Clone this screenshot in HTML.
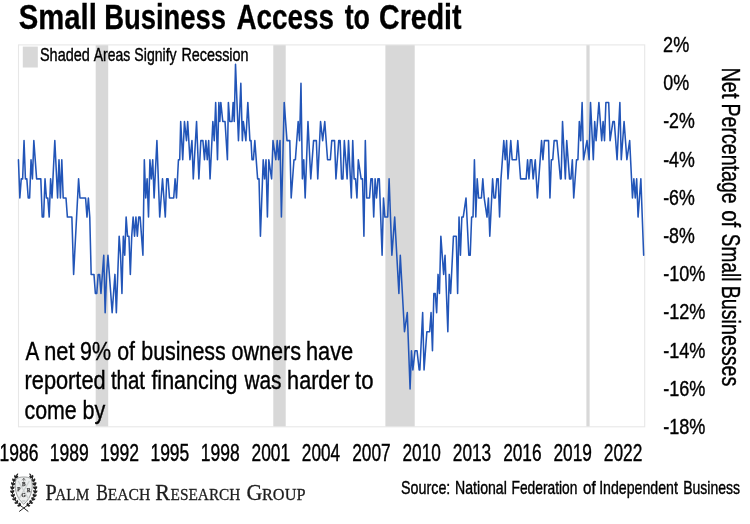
<!DOCTYPE html>
<html><head><meta charset="utf-8"><title>Small Business Access to Credit</title>
<style>
html,body{margin:0;padding:0;background:#fff;}
body{width:750px;height:524px;overflow:hidden;font-family:"Liberation Sans",sans-serif;}
svg{display:block;will-change:transform;}
svg text{font-family:"Liberation Sans",sans-serif;}
</style></head><body>
<svg width="750" height="524" viewBox="0 0 750 524">
<rect width="750" height="524" fill="#fff"/>
<rect x="95.7" y="44.9" width="12.50" height="381.90" fill="#d8d8d8"/>
<rect x="273.3" y="44.9" width="12.40" height="381.90" fill="#d8d8d8"/>
<rect x="385.4" y="44.9" width="29.30" height="381.90" fill="#d8d8d8"/>
<rect x="586.4" y="44.9" width="3.20" height="381.90" fill="#d8d8d8"/>
<rect x="18.5" y="44.9" width="626.20" height="381.90" fill="none" stroke="#e7e7e7" stroke-width="1.1"/>
<rect x="22.8" y="46.6" width="15.0" height="20.9" fill="#d8d8d8"/>
<text x="39.94" y="60.8" font-size="17.8" fill="#000" textLength="49.89" lengthAdjust="spacingAndGlyphs" stroke="#000" stroke-width="0.4">Shaded</text>
<text x="93.77" y="60.8" font-size="17.8" fill="#000" textLength="36.43" lengthAdjust="spacingAndGlyphs" stroke="#000" stroke-width="0.4">Areas</text>
<text x="134.36" y="60.8" font-size="17.8" fill="#000" textLength="42.27" lengthAdjust="spacingAndGlyphs" stroke="#000" stroke-width="0.4">Signify</text>
<text x="181.42" y="60.8" font-size="17.8" fill="#000" textLength="67.11" lengthAdjust="spacingAndGlyphs" stroke="#000" stroke-width="0.4">Recession</text>
<polyline points="18.44,159.74 19.84,197.96 21.24,178.85 22.64,178.85 24.03,140.63 25.43,178.85 26.83,178.85 28.23,197.96 29.63,197.96 31.03,159.74 32.43,178.85 33.83,140.63 36.62,178.85 40.82,178.85 42.22,217.07 43.62,217.07 45.02,178.85 46.41,197.96 47.81,197.96 49.21,217.07 50.61,178.85 52.01,197.96 54.81,140.63 57.60,197.96 59.00,159.74 60.40,197.96 61.80,159.74 63.20,197.96 66.00,197.96 67.39,217.07 71.87,217.07 73.62,274.40 78.58,178.85 79.98,197.96 85.58,197.96 86.98,217.07 88.38,197.96 89.77,217.07 91.17,274.40 93.97,274.40 95.37,293.51 96.77,293.51 98.17,274.40 99.56,274.40 100.96,293.51 102.36,274.40 103.76,255.29 105.16,312.62 106.56,274.40 107.96,255.29 112.15,312.62 113.55,293.51 114.95,274.40 116.35,312.62 117.75,274.40 119.15,236.18 120.55,255.29 121.94,293.51 123.34,236.18 124.74,255.29 126.14,217.07 127.54,236.18 128.94,236.18 130.34,274.40 131.73,236.18 133.13,217.07 134.53,236.18 135.93,217.07 137.33,236.18 138.73,217.07 140.13,217.07 141.53,236.18 142.92,255.29 144.32,159.74 145.72,197.96 147.12,178.85 148.52,217.07 149.92,159.74 151.32,178.85 152.72,159.74 154.11,197.96 156.91,140.63 159.71,217.07 161.11,197.96 162.51,178.85 165.30,217.07 166.70,178.85 168.10,178.85 169.50,197.96 173.70,197.96 175.09,178.85 176.49,197.96 178.45,159.74 179.71,159.74 180.69,121.52 182.72,159.74 184.47,121.52 186.49,140.63 187.68,121.52 189.92,159.74 191.95,140.63 193.28,178.85 196.56,121.52 198.87,178.85 200.83,140.63 202.93,140.63 204.47,159.74 205.87,140.63 207.26,159.74 208.66,140.63 210.06,178.85 212.86,121.52 214.26,140.63 215.66,102.41 217.48,159.74 218.87,102.41 219.85,121.52 220.83,102.41 222.79,121.52 225.03,121.52 227.41,159.74 228.38,102.41 229.78,121.52 232.02,121.52 233.14,102.41 234.26,121.52 235.52,64.19 238.46,140.63 240.83,83.30 242.37,140.63 243.35,121.52 245.87,140.63 247.83,102.41 249.92,140.63 251.04,140.63 252.02,159.74 253.42,159.74 254.82,140.63 257.62,178.85 259.02,178.85 260.42,236.18 263.21,159.74 264.61,178.85 266.01,159.74 267.41,217.07 268.81,159.74 271.60,178.85 273.00,140.63 275.80,159.74 277.20,140.63 278.60,159.74 280.00,140.63 281.40,217.07 284.19,102.41 286.99,140.63 289.79,140.63 291.19,197.96 293.98,159.74 295.38,159.74 298.18,121.52 299.58,140.63 300.98,83.30 302.38,178.85 303.77,159.74 305.17,197.96 307.97,121.52 310.77,178.85 313.57,140.63 316.36,140.63 317.76,178.85 320.56,121.52 322.66,140.63 324.76,121.52 327.55,159.74 330.35,159.74 331.75,140.63 334.55,140.63 335.94,178.85 338.74,140.63 340.14,140.63 341.54,178.85 342.94,178.85 344.34,140.63 347.13,178.85 348.53,140.63 351.33,197.96 352.73,140.63 354.13,178.85 355.53,178.85 356.93,197.96 358.32,159.74 361.12,178.85 362.52,178.85 363.92,236.18 365.32,140.63 366.72,197.96 369.51,197.96 370.91,178.85 372.31,178.85 373.71,217.07 375.11,178.85 376.51,197.96 377.91,178.85 379.30,178.85 382.10,255.29 383.50,197.96 384.90,217.07 387.70,217.07 389.10,178.85 391.89,255.29 394.69,217.07 398.89,293.51 400.29,255.29 404.48,331.73 407.28,312.62 410.08,389.06 411.47,350.84 412.87,369.95 414.97,350.84 417.07,350.84 419.17,369.95 419.87,369.95 422.66,312.62 424.06,369.95 426.86,331.73 429.66,331.73 431.06,312.62 432.46,350.84 433.85,293.51 435.25,293.51 436.65,312.62 438.05,274.40 439.45,293.51 440.85,236.18 443.64,274.40 445.04,255.29 447.84,331.73 449.24,274.40 450.64,293.51 453.44,236.18 456.23,236.18 457.63,293.51 459.03,217.07 460.43,255.29 461.83,217.07 463.23,217.07 466.02,197.96 468.82,255.29 470.22,255.29 471.62,217.07 473.02,217.07 474.42,159.74 475.81,217.07 477.21,178.85 478.61,197.96 481.41,197.96 482.81,178.85 484.21,197.96 487.00,217.07 488.40,197.96 489.80,236.18 492.60,178.85 494.00,197.96 495.40,197.96 496.80,178.85 498.19,178.85 499.59,217.07 500.99,178.85 502.39,159.74 503.79,140.63 505.19,159.74 506.59,140.63 507.99,178.85 510.78,140.63 512.18,159.74 516.38,159.74 517.78,140.63 520.57,178.85 526.17,178.85 527.57,159.74 528.97,178.85 530.36,159.74 531.76,159.74 533.16,178.85 535.26,159.74 537.36,197.96 541.55,140.63 542.95,159.74 544.35,140.63 548.55,140.63 549.95,197.96 551.34,159.74 552.74,159.74 554.14,140.63 556.94,140.63 560.44,178.85 561.14,178.85 562.53,121.52 565.33,178.85 566.73,140.63 569.53,178.85 570.93,178.85 572.33,159.74 573.72,197.96 576.52,159.74 577.92,159.74 579.32,121.52 580.72,140.63 582.12,102.41 583.51,159.74 587.01,140.63 589.11,159.74 590.51,102.41 593.31,159.74 594.70,121.52 596.10,140.63 598.90,102.41 601.70,140.63 603.10,121.52 604.50,140.63 605.89,102.41 608.69,102.41 610.09,140.63 612.89,121.52 614.29,121.52 617.08,159.74 619.88,102.41 621.28,159.74 624.08,121.52 626.87,159.74 629.67,140.63 632.47,197.96 633.87,178.85 635.27,197.96 636.67,178.85 638.06,217.07 640.86,178.85 643.66,255.29" fill="none" stroke="#2255b8" stroke-width="1.55" stroke-linejoin="round" stroke-linecap="round"/>
<text x="18.76" y="28.5" font-size="35.4" fill="#000" textLength="78.12" lengthAdjust="spacingAndGlyphs" stroke="#000" stroke-width="0.3" font-weight="bold">Small</text>
<text x="104.17" y="28.5" font-size="35.4" fill="#000" textLength="121.96" lengthAdjust="spacingAndGlyphs" stroke="#000" stroke-width="0.3" font-weight="bold">Business</text>
<text x="236.51" y="28.5" font-size="35.4" fill="#000" textLength="97.43" lengthAdjust="spacingAndGlyphs" stroke="#000" stroke-width="0.3" font-weight="bold">Access</text>
<text x="344.67" y="28.5" font-size="35.4" fill="#000" textLength="25.38" lengthAdjust="spacingAndGlyphs" stroke="#000" stroke-width="0.3" font-weight="bold">to</text>
<text x="379.03" y="28.5" font-size="35.4" fill="#000" textLength="82.52" lengthAdjust="spacingAndGlyphs" stroke="#000" stroke-width="0.3" font-weight="bold">Credit</text>
<text x="25.46" y="359.7" font-size="26.2" fill="#000" textLength="13.78" lengthAdjust="spacingAndGlyphs" stroke="#000" stroke-width="0.4">A</text>
<text x="44.26" y="359.7" font-size="26.2" fill="#000" textLength="30.20" lengthAdjust="spacingAndGlyphs" stroke="#000" stroke-width="0.4">net</text>
<text x="80.00" y="359.7" font-size="26.2" fill="#000" textLength="30.97" lengthAdjust="spacingAndGlyphs" stroke="#000" stroke-width="0.4">9%</text>
<text x="117.21" y="359.7" font-size="26.2" fill="#000" textLength="17.76" lengthAdjust="spacingAndGlyphs" stroke="#000" stroke-width="0.4">of</text>
<text x="141.22" y="359.7" font-size="26.2" fill="#000" textLength="84.55" lengthAdjust="spacingAndGlyphs" stroke="#000" stroke-width="0.4">business</text>
<text x="231.49" y="359.7" font-size="26.2" fill="#000" textLength="69.48" lengthAdjust="spacingAndGlyphs" stroke="#000" stroke-width="0.4">owners</text>
<text x="305.88" y="359.7" font-size="26.2" fill="#000" textLength="47.39" lengthAdjust="spacingAndGlyphs" stroke="#000" stroke-width="0.4">have</text>
<text x="24.56" y="389.0" font-size="26.2" fill="#000" textLength="81.05" lengthAdjust="spacingAndGlyphs" stroke="#000" stroke-width="0.4">reported</text>
<text x="110.89" y="389.0" font-size="26.2" fill="#000" textLength="34.16" lengthAdjust="spacingAndGlyphs" stroke="#000" stroke-width="0.4">that</text>
<text x="151.40" y="389.0" font-size="26.2" fill="#000" textLength="85.99" lengthAdjust="spacingAndGlyphs" stroke="#000" stroke-width="0.4">financing</text>
<text x="244.43" y="389.0" font-size="26.2" fill="#000" textLength="37.12" lengthAdjust="spacingAndGlyphs" stroke="#000" stroke-width="0.4">was</text>
<text x="287.10" y="389.0" font-size="26.2" fill="#000" textLength="62.56" lengthAdjust="spacingAndGlyphs" stroke="#000" stroke-width="0.4">harder</text>
<text x="355.06" y="389.0" font-size="26.2" fill="#000" textLength="18.46" lengthAdjust="spacingAndGlyphs" stroke="#000" stroke-width="0.4">to</text>
<text x="24.49" y="418.8" font-size="26.2" fill="#000" textLength="52.15" lengthAdjust="spacingAndGlyphs" stroke="#000" stroke-width="0.4">come</text>
<text x="82.61" y="418.8" font-size="26.2" fill="#000" textLength="22.73" lengthAdjust="spacingAndGlyphs" stroke="#000" stroke-width="0.4">by</text>
<text x="-0.53" y="460.6" font-size="23.0" fill="#000" textLength="38.90" lengthAdjust="spacingAndGlyphs" stroke="#000" stroke-width="0.4">1986</text>
<text x="49.79" y="460.6" font-size="23.0" fill="#000" textLength="38.96" lengthAdjust="spacingAndGlyphs" stroke="#000" stroke-width="0.4">1989</text>
<text x="100.10" y="460.6" font-size="23.0" fill="#000" textLength="39.02" lengthAdjust="spacingAndGlyphs" stroke="#000" stroke-width="0.4">1992</text>
<text x="150.43" y="460.6" font-size="23.0" fill="#000" textLength="38.86" lengthAdjust="spacingAndGlyphs" stroke="#000" stroke-width="0.4">1995</text>
<text x="200.75" y="460.6" font-size="23.0" fill="#000" textLength="38.89" lengthAdjust="spacingAndGlyphs" stroke="#000" stroke-width="0.4">1998</text>
<text x="251.53" y="460.6" font-size="23.0" fill="#000" textLength="38.52" lengthAdjust="spacingAndGlyphs" stroke="#000" stroke-width="0.4">2001</text>
<text x="301.86" y="460.6" font-size="23.0" fill="#000" textLength="38.17" lengthAdjust="spacingAndGlyphs" stroke="#000" stroke-width="0.4">2004</text>
<text x="352.17" y="460.6" font-size="23.0" fill="#000" textLength="38.54" lengthAdjust="spacingAndGlyphs" stroke="#000" stroke-width="0.4">2007</text>
<text x="402.49" y="460.6" font-size="23.0" fill="#000" textLength="38.34" lengthAdjust="spacingAndGlyphs" stroke="#000" stroke-width="0.4">2010</text>
<text x="452.81" y="460.6" font-size="23.0" fill="#000" textLength="38.43" lengthAdjust="spacingAndGlyphs" stroke="#000" stroke-width="0.4">2013</text>
<text x="503.13" y="460.6" font-size="23.0" fill="#000" textLength="38.43" lengthAdjust="spacingAndGlyphs" stroke="#000" stroke-width="0.4">2016</text>
<text x="553.45" y="460.6" font-size="23.0" fill="#000" textLength="38.49" lengthAdjust="spacingAndGlyphs" stroke="#000" stroke-width="0.4">2019</text>
<text x="603.77" y="460.6" font-size="23.0" fill="#000" textLength="38.54" lengthAdjust="spacingAndGlyphs" stroke="#000" stroke-width="0.4">2022</text>
<text x="663.09" y="51.88" font-size="22.8" fill="#000" textLength="26.16" lengthAdjust="spacingAndGlyphs" stroke="#000" stroke-width="0.4">2%</text>
<text x="663.30" y="90.10" font-size="22.8" fill="#000" textLength="25.94" lengthAdjust="spacingAndGlyphs" stroke="#000" stroke-width="0.4">0%</text>
<text x="663.21" y="128.32" font-size="22.8" fill="#000" textLength="31.62" lengthAdjust="spacingAndGlyphs" stroke="#000" stroke-width="0.4">-2%</text>
<text x="663.21" y="166.54" font-size="22.8" fill="#000" textLength="31.62" lengthAdjust="spacingAndGlyphs" stroke="#000" stroke-width="0.4">-4%</text>
<text x="663.21" y="204.76" font-size="22.8" fill="#000" textLength="31.62" lengthAdjust="spacingAndGlyphs" stroke="#000" stroke-width="0.4">-6%</text>
<text x="663.21" y="242.98" font-size="22.8" fill="#000" textLength="31.62" lengthAdjust="spacingAndGlyphs" stroke="#000" stroke-width="0.4">-8%</text>
<text x="663.20" y="281.20" font-size="22.8" fill="#000" textLength="42.25" lengthAdjust="spacingAndGlyphs" stroke="#000" stroke-width="0.4">-10%</text>
<text x="663.20" y="319.42" font-size="22.8" fill="#000" textLength="42.25" lengthAdjust="spacingAndGlyphs" stroke="#000" stroke-width="0.4">-12%</text>
<text x="663.20" y="357.64" font-size="22.8" fill="#000" textLength="42.25" lengthAdjust="spacingAndGlyphs" stroke="#000" stroke-width="0.4">-14%</text>
<text x="663.20" y="395.86" font-size="22.8" fill="#000" textLength="42.25" lengthAdjust="spacingAndGlyphs" stroke="#000" stroke-width="0.4">-16%</text>
<text x="663.20" y="434.08" font-size="22.8" fill="#000" textLength="42.25" lengthAdjust="spacingAndGlyphs" stroke="#000" stroke-width="0.4">-18%</text>
<g transform="translate(721.7,0) rotate(90)"><text x="67.47" y="0" font-size="26" fill="#000" textLength="30.98" lengthAdjust="spacingAndGlyphs" stroke="#000" stroke-width="0.4">Net</text>
<text x="103.39" y="0" font-size="26" fill="#000" textLength="100.38" lengthAdjust="spacingAndGlyphs" stroke="#000" stroke-width="0.4">Percentage</text>
<text x="210.14" y="0" font-size="26" fill="#000" textLength="17.03" lengthAdjust="spacingAndGlyphs" stroke="#000" stroke-width="0.4">of</text>
<text x="233.83" y="0" font-size="26" fill="#000" textLength="47.64" lengthAdjust="spacingAndGlyphs" stroke="#000" stroke-width="0.4">Small</text>
<text x="285.68" y="0" font-size="26" fill="#000" textLength="100.73" lengthAdjust="spacingAndGlyphs" stroke="#000" stroke-width="0.4">Businesses</text></g>
<text x="401.05" y="493.6" font-size="17.8" fill="#000" textLength="49.25" lengthAdjust="spacingAndGlyphs" stroke="#000" stroke-width="0.4">Source:</text>
<text x="455.04" y="493.6" font-size="17.8" fill="#000" textLength="51.80" lengthAdjust="spacingAndGlyphs" stroke="#000" stroke-width="0.4">National</text>
<text x="511.47" y="493.6" font-size="17.8" fill="#000" textLength="65.93" lengthAdjust="spacingAndGlyphs" stroke="#000" stroke-width="0.4">Federation</text>
<text x="583.06" y="493.6" font-size="17.8" fill="#000" textLength="12.61" lengthAdjust="spacingAndGlyphs" stroke="#000" stroke-width="0.4">of</text>
<text x="599.19" y="493.6" font-size="17.8" fill="#000" textLength="78.71" lengthAdjust="spacingAndGlyphs" stroke="#000" stroke-width="0.4">Independent</text>
<text x="683.15" y="493.6" font-size="17.8" fill="#000" textLength="56.86" lengthAdjust="spacingAndGlyphs" stroke="#000" stroke-width="0.4">Business</text>
<text x="45.62" y="499.7" font-size="23.4" fill="#1c1c1c" textLength="11.18" lengthAdjust="spacingAndGlyphs" stroke="#1c1c1c" stroke-width="0.3" style="font-family:'Liberation Serif',serif">P</text><text x="55.25" y="499.7" font-size="17.6" fill="#1c1c1c" textLength="34.00" lengthAdjust="spacingAndGlyphs" stroke="#1c1c1c" stroke-width="0.3" style="font-family:'Liberation Serif',serif">ALM</text>
<text x="96.30" y="499.7" font-size="23.4" fill="#1c1c1c" textLength="11.66" lengthAdjust="spacingAndGlyphs" stroke="#1c1c1c" stroke-width="0.3" style="font-family:'Liberation Serif',serif">B</text><text x="107.65" y="499.7" font-size="17.6" fill="#1c1c1c" textLength="42.81" lengthAdjust="spacingAndGlyphs" stroke="#1c1c1c" stroke-width="0.3" style="font-family:'Liberation Serif',serif">EACH</text>
<text x="155.37" y="499.7" font-size="23.4" fill="#1c1c1c" textLength="14.67" lengthAdjust="spacingAndGlyphs" stroke="#1c1c1c" stroke-width="0.3" style="font-family:'Liberation Serif',serif">R</text><text x="170.56" y="499.7" font-size="17.6" fill="#1c1c1c" textLength="69.89" lengthAdjust="spacingAndGlyphs" stroke="#1c1c1c" stroke-width="0.3" style="font-family:'Liberation Serif',serif">ESEARCH</text>
<text x="246.40" y="499.7" font-size="23.4" fill="#1c1c1c" textLength="15.89" lengthAdjust="spacingAndGlyphs" stroke="#1c1c1c" stroke-width="0.3" style="font-family:'Liberation Serif',serif">G</text><text x="262.03" y="499.7" font-size="17.6" fill="#1c1c1c" textLength="43.42" lengthAdjust="spacingAndGlyphs" stroke="#1c1c1c" stroke-width="0.3" style="font-family:'Liberation Serif',serif">ROUP</text>
<g id="crest"><g><path transform="translate(15.39,477.85) rotate(333.2)" d="M-0.3,0 C0.82,-1.45 2.31,-1.23 3.30,0 C2.31,1.23 0.82,1.45 -0.3,0Z" fill="#202020"/>
<path transform="translate(15.39,477.85) rotate(257.6)" d="M-0.3,0 C0.82,-1.45 2.31,-1.23 3.30,0 C2.31,1.23 0.82,1.45 -0.3,0Z" fill="#202020"/>
<path transform="translate(13.75,481.37) rotate(324.3)" d="M-0.3,0 C0.82,-1.45 2.31,-1.23 3.30,0 C2.31,1.23 0.82,1.45 -0.3,0Z" fill="#202020"/>
<path transform="translate(13.75,481.37) rotate(248.6)" d="M-0.3,0 C0.82,-1.45 2.31,-1.23 3.30,0 C2.31,1.23 0.82,1.45 -0.3,0Z" fill="#202020"/>
<path transform="translate(12.65,485.09) rotate(324.3)" d="M-0.3,0 C0.82,-1.45 2.31,-1.23 3.30,0 C2.31,1.23 0.82,1.45 -0.3,0Z" fill="#202020"/>
<path transform="translate(12.65,485.09) rotate(248.6)" d="M-0.3,0 C0.82,-1.45 2.31,-1.23 3.30,0 C2.31,1.23 0.82,1.45 -0.3,0Z" fill="#202020"/>
<path transform="translate(12.20,488.94) rotate(313.0)" d="M-0.3,0 C0.82,-1.45 2.31,-1.23 3.30,0 C2.31,1.23 0.82,1.45 -0.3,0Z" fill="#202020"/>
<path transform="translate(12.20,488.94) rotate(237.4)" d="M-0.3,0 C0.82,-1.45 2.31,-1.23 3.30,0 C2.31,1.23 0.82,1.45 -0.3,0Z" fill="#202020"/>
<path transform="translate(12.43,492.80) rotate(301.0)" d="M-0.3,0 C0.82,-1.45 2.31,-1.23 3.30,0 C2.31,1.23 0.82,1.45 -0.3,0Z" fill="#202020"/>
<path transform="translate(12.43,492.80) rotate(225.4)" d="M-0.3,0 C0.82,-1.45 2.31,-1.23 3.30,0 C2.31,1.23 0.82,1.45 -0.3,0Z" fill="#202020"/>
<path transform="translate(13.42,496.54) rotate(288.5)" d="M-0.3,0 C0.82,-1.45 2.31,-1.23 3.30,0 C2.31,1.23 0.82,1.45 -0.3,0Z" fill="#202020"/>
<path transform="translate(13.42,496.54) rotate(212.9)" d="M-0.3,0 C0.82,-1.45 2.31,-1.23 3.30,0 C2.31,1.23 0.82,1.45 -0.3,0Z" fill="#202020"/>
<path transform="translate(15.12,500.00) rotate(275.9)" d="M-0.3,0 C0.82,-1.45 2.31,-1.23 3.30,0 C2.31,1.23 0.82,1.45 -0.3,0Z" fill="#202020"/>
<path transform="translate(15.12,500.00) rotate(200.3)" d="M-0.3,0 C0.82,-1.45 2.31,-1.23 3.30,0 C2.31,1.23 0.82,1.45 -0.3,0Z" fill="#202020"/>
<path transform="translate(17.49,503.05) rotate(261.9)" d="M-0.3,0 C0.82,-1.45 2.31,-1.23 3.30,0 C2.31,1.23 0.82,1.45 -0.3,0Z" fill="#202020"/>
<path transform="translate(17.49,503.05) rotate(186.2)" d="M-0.3,0 C0.82,-1.45 2.31,-1.23 3.30,0 C2.31,1.23 0.82,1.45 -0.3,0Z" fill="#202020"/>
<path transform="translate(20.40,505.59) rotate(252.4)" d="M-0.3,0 C0.82,-1.45 2.31,-1.23 3.30,0 C2.31,1.23 0.82,1.45 -0.3,0Z" fill="#202020"/>
<path transform="translate(20.40,505.59) rotate(176.8)" d="M-0.3,0 C0.82,-1.45 2.31,-1.23 3.30,0 C2.31,1.23 0.82,1.45 -0.3,0Z" fill="#202020"/>
<path transform="translate(16.20,476.40) rotate(-57.4)" d="M-0.3,0 C0.90,-1.10 2.52,-0.94 3.60,0 C2.52,0.94 0.90,1.10 -0.3,0Z" fill="#202020"/>
<polyline points="15.70,477.20 13.80,481.20 12.50,485.60 12.10,490.00 12.60,494.20 14.00,498.20 16.30,501.90 19.40,504.90 22.30,506.90 28.0,511.3" fill="none" stroke="#202020" stroke-width="1.0" stroke-linecap="round" stroke-linejoin="round"/></g>
<g transform="translate(47.50,0) scale(-1,1)"><path transform="translate(15.39,477.85) rotate(333.2)" d="M-0.3,0 C0.82,-1.45 2.31,-1.23 3.30,0 C2.31,1.23 0.82,1.45 -0.3,0Z" fill="#202020"/>
<path transform="translate(15.39,477.85) rotate(257.6)" d="M-0.3,0 C0.82,-1.45 2.31,-1.23 3.30,0 C2.31,1.23 0.82,1.45 -0.3,0Z" fill="#202020"/>
<path transform="translate(13.75,481.37) rotate(324.3)" d="M-0.3,0 C0.82,-1.45 2.31,-1.23 3.30,0 C2.31,1.23 0.82,1.45 -0.3,0Z" fill="#202020"/>
<path transform="translate(13.75,481.37) rotate(248.6)" d="M-0.3,0 C0.82,-1.45 2.31,-1.23 3.30,0 C2.31,1.23 0.82,1.45 -0.3,0Z" fill="#202020"/>
<path transform="translate(12.65,485.09) rotate(324.3)" d="M-0.3,0 C0.82,-1.45 2.31,-1.23 3.30,0 C2.31,1.23 0.82,1.45 -0.3,0Z" fill="#202020"/>
<path transform="translate(12.65,485.09) rotate(248.6)" d="M-0.3,0 C0.82,-1.45 2.31,-1.23 3.30,0 C2.31,1.23 0.82,1.45 -0.3,0Z" fill="#202020"/>
<path transform="translate(12.20,488.94) rotate(313.0)" d="M-0.3,0 C0.82,-1.45 2.31,-1.23 3.30,0 C2.31,1.23 0.82,1.45 -0.3,0Z" fill="#202020"/>
<path transform="translate(12.20,488.94) rotate(237.4)" d="M-0.3,0 C0.82,-1.45 2.31,-1.23 3.30,0 C2.31,1.23 0.82,1.45 -0.3,0Z" fill="#202020"/>
<path transform="translate(12.43,492.80) rotate(301.0)" d="M-0.3,0 C0.82,-1.45 2.31,-1.23 3.30,0 C2.31,1.23 0.82,1.45 -0.3,0Z" fill="#202020"/>
<path transform="translate(12.43,492.80) rotate(225.4)" d="M-0.3,0 C0.82,-1.45 2.31,-1.23 3.30,0 C2.31,1.23 0.82,1.45 -0.3,0Z" fill="#202020"/>
<path transform="translate(13.42,496.54) rotate(288.5)" d="M-0.3,0 C0.82,-1.45 2.31,-1.23 3.30,0 C2.31,1.23 0.82,1.45 -0.3,0Z" fill="#202020"/>
<path transform="translate(13.42,496.54) rotate(212.9)" d="M-0.3,0 C0.82,-1.45 2.31,-1.23 3.30,0 C2.31,1.23 0.82,1.45 -0.3,0Z" fill="#202020"/>
<path transform="translate(15.12,500.00) rotate(275.9)" d="M-0.3,0 C0.82,-1.45 2.31,-1.23 3.30,0 C2.31,1.23 0.82,1.45 -0.3,0Z" fill="#202020"/>
<path transform="translate(15.12,500.00) rotate(200.3)" d="M-0.3,0 C0.82,-1.45 2.31,-1.23 3.30,0 C2.31,1.23 0.82,1.45 -0.3,0Z" fill="#202020"/>
<path transform="translate(17.49,503.05) rotate(261.9)" d="M-0.3,0 C0.82,-1.45 2.31,-1.23 3.30,0 C2.31,1.23 0.82,1.45 -0.3,0Z" fill="#202020"/>
<path transform="translate(17.49,503.05) rotate(186.2)" d="M-0.3,0 C0.82,-1.45 2.31,-1.23 3.30,0 C2.31,1.23 0.82,1.45 -0.3,0Z" fill="#202020"/>
<path transform="translate(20.40,505.59) rotate(252.4)" d="M-0.3,0 C0.82,-1.45 2.31,-1.23 3.30,0 C2.31,1.23 0.82,1.45 -0.3,0Z" fill="#202020"/>
<path transform="translate(20.40,505.59) rotate(176.8)" d="M-0.3,0 C0.82,-1.45 2.31,-1.23 3.30,0 C2.31,1.23 0.82,1.45 -0.3,0Z" fill="#202020"/>
<path transform="translate(16.20,476.40) rotate(-57.4)" d="M-0.3,0 C0.90,-1.10 2.52,-0.94 3.60,0 C2.52,0.94 0.90,1.10 -0.3,0Z" fill="#202020"/>
<polyline points="15.70,477.20 13.80,481.20 12.50,485.60 12.10,490.00 12.60,494.20 14.00,498.20 16.30,501.90 19.40,504.90 22.30,506.90 28.0,511.3" fill="none" stroke="#202020" stroke-width="1.0" stroke-linecap="round" stroke-linejoin="round"/></g>
<path d="M16.05,479.2 C18.25,477.2 21.25,477.0 23.75,477.0 C26.25,477.0 29.25,477.2 31.45,479.2 C33.35,486.5 32.35,497.0 23.75,504.3 C15.15,497.0 14.15,486.5 16.05,479.2Z" fill="#eceeee" stroke="#757979" stroke-width="0.7"/>
<path d="M18.15,481.0 L28.95,499.6 M29.35,481.0 L18.55,499.6" stroke="#cdd1d1" stroke-width="1.3" fill="none"/>
<text x="23.65" y="486.2" font-size="5.3" font-weight="bold" text-anchor="middle" fill="#3c3c3c" stroke="#3c3c3c" stroke-width="0.25" style="font-family:'Liberation Serif',serif">B</text><text x="18.85" y="491.3" font-size="5.3" font-weight="bold" text-anchor="middle" fill="#3c3c3c" stroke="#3c3c3c" stroke-width="0.25" style="font-family:'Liberation Serif',serif">P</text><text x="28.75" y="491.5" font-size="5.3" font-weight="bold" text-anchor="middle" fill="#3c3c3c" stroke="#3c3c3c" stroke-width="0.25" style="font-family:'Liberation Serif',serif">R</text><text x="23.55" y="497.2" font-size="5.3" font-weight="bold" text-anchor="middle" fill="#3c3c3c" stroke="#3c3c3c" stroke-width="0.25" style="font-family:'Liberation Serif',serif">G</text>
<path d="M22.15,480.3 L23.75,478.2 L25.35,480.3 M23.75,478.4 L23.75,481.6" stroke="#555" stroke-width="0.7" fill="none"/>
<path d="M22.25,501.0 L25.25,501.0" stroke="#a5a9a9" stroke-width="0.8"/></g>
</svg>
</body></html>
